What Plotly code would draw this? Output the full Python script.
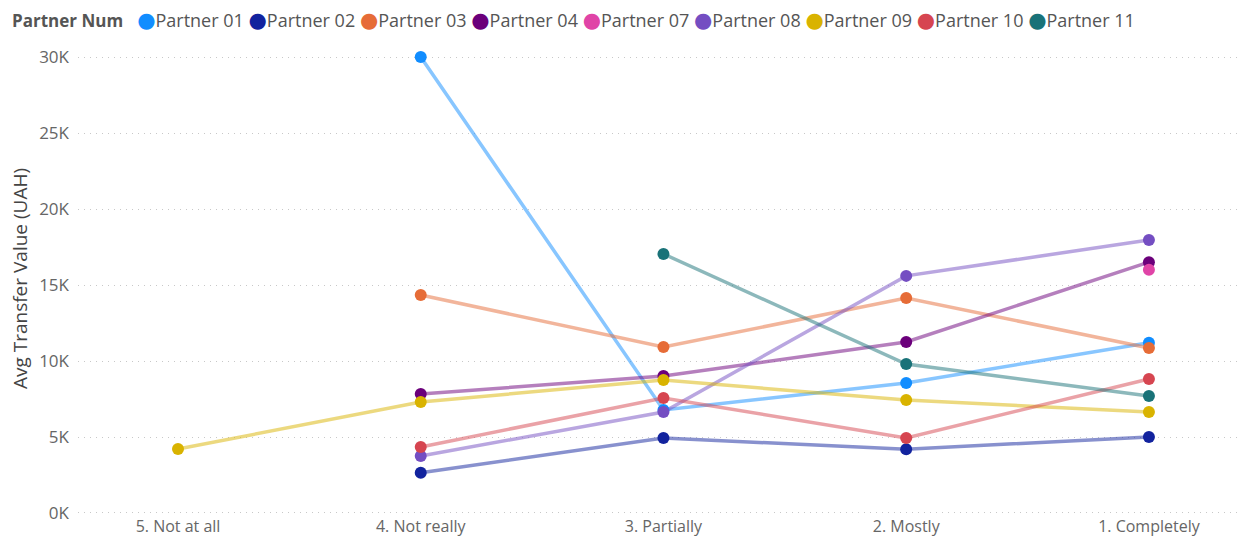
import plotly.graph_objects as go

categories = ["5. Not at all", "4. Not really", "3. Partially", "2. Mostly", "1. Completely"]

partners = ["Partner 01", "Partner 02", "Partner 03", "Partner 04", "Partner 07",
            "Partner 08", "Partner 09", "Partner 10", "Partner 11"]

colors = ["#118DFF", "#12239E", "#E66C37", "#6B007B", "#E044A7",
          "#744EC2", "#D9B300", "#D64550", "#197278"]

# Average transfer value (UAH) per category, None where a partner has no data
p01 = [None, 30000, 6780, 8550, 11200]
p02 = [None, 2650, 4930, 4200, 5000]
p03 = [None, 14340, 10920, 14140, 10860]
p04 = [None, 7830, 9010, 11250, 16500]
p07 = [None, None, None, None, 16000]
p08 = [None, 3750, 6640, 15600, 17960]
p09 = [4210, 7300, 8750, 7430, 6640]
p10 = [None, 4340, 7570, 4930, 8820]
p11 = [None, None, 17040, 9800, 7700]

series = [p01, p02, p03, p04, p07, p08, p09, p10, p11]

y_ticks = [0, 5000, 10000, 15000, 20000, 25000, 30000]
y_tick_labels = ["0K", "5K", "10K", "15K", "20K", "25K", "30K"]

legend_title = "Partner Num"
FONT = "Open Sans, DejaVu Sans, sans-serif"
NBSP = "\u00a0"


def with_alpha(hex_color, alpha):
    h = hex_color.lstrip("#")
    r, g, b = int(h[0:2], 16), int(h[2:4], 16), int(h[4:6], 16)
    return f"rgba({r},{g},{b},{alpha})"


fig = go.Figure()

# translucent connecting lines first
for name, col, vals in zip(partners, colors, series):
    fig.add_trace(go.Scatter(
        x=categories, y=vals, mode="lines", name=name,
        line=dict(color=with_alpha(col, 0.5), width=3.5),
        showlegend=False, hoverinfo="skip",
    ))

# solid point markers on top
for name, col, vals in zip(partners, colors, series):
    fig.add_trace(go.Scatter(
        x=categories, y=vals, mode="markers", name=name,
        marker=dict(color=col, size=12),
        showlegend=False,
    ))

# compact legend strip built as a single line of rich text
items = NBSP.join(
    f"<span style='color:{c};font-size:21px'>●</span>{n}" for n, c in zip(partners, colors)
)
legend_text = f"<span style='font-size:17px;color:#555555'><b>{legend_title}</b></span>" + NBSP * 3 + items
fig.add_annotation(
    text=legend_text, xref="paper", yref="paper", x=0, y=1,
    xanchor="left", yanchor="middle", showarrow=False, align="left",
    font=dict(family=FONT, size=18, color="#555555"),
    xshift=-68, yshift=23,
)

fig.update_layout(
    width=1244, height=541,
    paper_bgcolor="white", plot_bgcolor="white",
    margin=dict(l=78, r=6, t=42, b=26),
    font=dict(family=FONT, color="#666666", size=16),
    showlegend=False,
    xaxis=dict(
        type="category", categoryorder="array", categoryarray=categories,
        range=[-0.412, 4.367], showgrid=False, zeroline=False, showline=False,
        ticks="", tickfont=dict(size=16, color="#666666"), automargin=False,
        ticklabelstandoff=0,
    ),
    yaxis=dict(
        range=[-132, 30987], tickvals=y_ticks, ticktext=y_tick_labels,
        showgrid=True, gridcolor="#c8c8c8", griddash="1px,5px", gridwidth=1,
        zeroline=False, showline=False, ticks="", ticklabelstandoff=8,
        tickfont=dict(size=17, color="#666666"), automargin=False,
        title=dict(text="Avg Transfer Value (UAH)", font=dict(size=19, color="#444444"), standoff=6),
    ),
)

fig.write_html("out.html")
